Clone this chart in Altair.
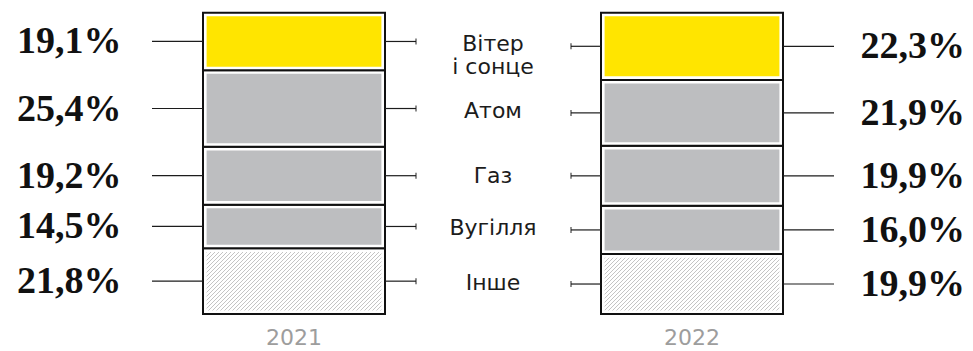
import altair as alt
import pandas as pd

# ---------------- data ----------------
years = ["2021", "2022"]
categories = ["Інше", "Вугілля", "Газ", "Атом", "Вітер і сонце"]          # bottom -> top
mid_labels = ["Інше", "Вугілля", "Газ", "Атом", "Вітер\nі сонце"]
share_2021 = [21.8, 14.5, 19.2, 25.4, 19.1]
share_2022 = [19.9, 16.0, 19.9, 21.9, 22.3]
shares = {"2021": share_2021, "2022": share_2022}

# ---------------- layout / style ----------------
W, H = 957, 343
PX_PER = 3.013          # px per percentage point
BASE = 306              # plot-y of 0 %
BAR_W = 182
INSET = 3.6
layout = {
    "2021": dict(left=195, outer=(144, 195), inner=(377, 408), tick=408, tx=9, align="left"),
    "2022": dict(left=593, outer=(775, 826), inner=(563, 593), tick=563, tx=957, align="right"),
}
MID_X = 485
YEAR_Y = 330            # plot-y of year labels
YELLOW = "#FFE500"
GRAY = "#BDBEC0"
INK = "#1c1c1c"

xs = alt.Scale(domain=[0, W], nice=False, zero=False)
ys = alt.Scale(domain=[(BASE - H) / PX_PER, BASE / PX_PER], nice=False, zero=False)

rows = []
for yr in years:
    cum = 0.0
    L = layout[yr]
    for cat, v in zip(categories, shares[yr]):
        rows.append(dict(
            year=yr, cat=cat, value=v, start=cum, end=cum + v, mid=cum + v / 2,
            label=f"{v:.1f}".replace(".", ",") + "%",
            x0=L["left"], x1=L["left"] + BAR_W,
            ox0=L["outer"][0], ox1=L["outer"][1],
            ix0=L["inner"][0], ix1=L["inner"][1],
            tick=L["tick"], tx=L["tx"],
        ))
        cum += v
df = pd.DataFrame(rows)

mids = df.groupby("cat")["mid"].mean()
df_mid = pd.DataFrame({"cat": categories,
                       "text": mid_labels,
                       "y": [mids[c] for c in categories],
                       "x": [MID_X] * len(categories)})

df_year = pd.DataFrame({"year": years,
                        "x": [layout[y]["left"] + BAR_W / 2 for y in years],
                        "y": [(BASE - YEAR_Y) / PX_PER] * len(years)})

X = lambda f: alt.X(f"{f}:Q", scale=xs, axis=None)
Y = lambda f: alt.Y(f"{f}:Q", scale=ys, axis=None)

base = alt.Chart(df)

outer = base.mark_rect(fill="white", stroke="#111", strokeWidth=2).encode(
    x=X("x0"), x2="x1", y=Y("start"), y2="end")

solid = base.transform_filter(alt.datum.cat != "Інше").mark_rect(
    xOffset=INSET, x2Offset=-INSET, yOffset=-INSET, y2Offset=INSET
).encode(
    x=X("x0"), x2="x1", y=Y("start"), y2="end",
    fill=alt.Fill("cat:N", scale=alt.Scale(domain=categories[1:],
                                           range=[GRAY, GRAY, GRAY, YELLOW]), legend=None))


def hatch(w, h, spacing=4.0, lw=1.1, col="#c4c4c4"):
    r = h / w
    k = (1 + r) / (1 + r * r)
    total = w + h
    P = spacing / total
    L = lw / total
    stops = []
    s = 0.0
    while s < 1:
        a = min(s + L, 1.0)
        b = min(s + P, 1.0)
        stops += [dict(offset=s, color=col), dict(offset=a, color=col),
                  dict(offset=a, color="white"), dict(offset=b, color="white")]
        s += P
    return dict(gradient="linear", x1=0, y1=0, x2=k, y2=k * r, stops=stops)


hatch_layers = []
for yr in years:
    v = df[(df.year == yr) & (df.cat == "Інше")]["value"].iloc[0]
    g = hatch(BAR_W - 2 * INSET, v * PX_PER - 2 * INSET)
    hatch_layers.append(
        base.transform_filter((alt.datum.cat == "Інше") & (alt.datum.year == yr)).mark_rect(
            fill=g, xOffset=INSET, x2Offset=-INSET, yOffset=-INSET, y2Offset=INSET
        ).encode(x=X("x0"), x2="x1", y=Y("start"), y2="end"))

outer_lines = base.mark_rule(color=INK, strokeWidth=1.2).encode(
    x=X("ox0"), x2="ox1", y=Y("mid"))
inner_lines = base.mark_rule(color=INK, strokeWidth=1.2).encode(
    x=X("ix0"), x2="ix1", y=Y("mid"))
ticks = base.mark_tick(color=INK, orient="vertical", size=6, thickness=1.4).encode(
    x=X("tick"), y=Y("mid"))

pct_font = dict(font="Liberation Serif", fontSize=38, fontWeight="bold", color="#111", baseline="middle", dy=1)
pct_left = base.transform_filter(alt.datum.year == "2021").mark_text(align="left", **pct_font).encode(
    x=X("tx"), y=Y("mid"), text="label:N")
pct_right = base.transform_filter(alt.datum.year == "2022").mark_text(align="right", **pct_font).encode(
    x=X("tx"), y=Y("mid"), text="label:N")

mid_text = alt.Chart(df_mid).mark_text(
    font="DejaVu Sans", fontSize=22, color=INK, align="center", baseline="middle",
    lineBreak="\n", lineHeight=23
).encode(x=X("x"), y=Y("y"), text="text:N")

year_text = alt.Chart(df_year).mark_text(
    font="DejaVu Sans", fontSize=22, color="#9d9d9d", align="center", baseline="middle"
).encode(x=X("x"), y=Y("y"), text="year:N")

chart = alt.layer(
    outer, solid, *hatch_layers, outer_lines, inner_lines, ticks,
    pct_left, pct_right, mid_text, year_text
).properties(width=W, height=H, padding=0, autosize="none").configure_view(stroke=None)

chart.save("out.html", embed_options={"renderer": "svg", "actions": False})
